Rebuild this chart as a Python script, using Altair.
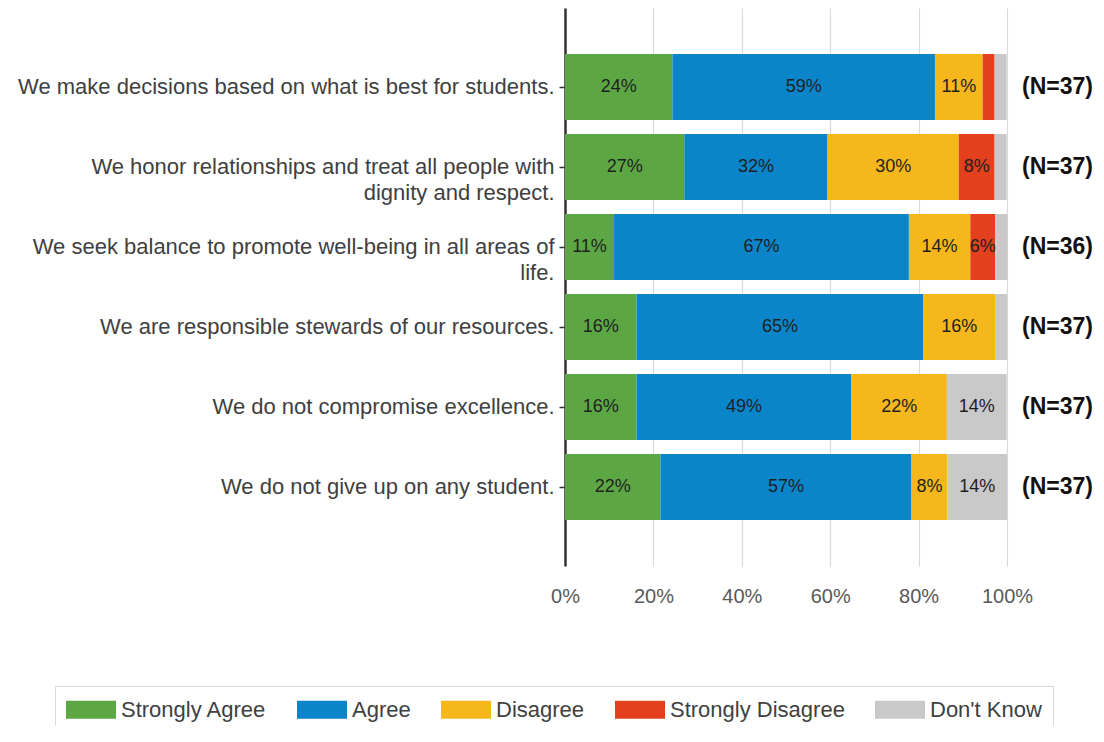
import altair as alt
import pandas as pd

statements = [
    "We make decisions based on what is best for students.",
    "We honor relationships and treat all people with|dignity and respect.",
    "We seek balance to promote well-being in all areas of|life.",
    "We are responsible stewards of our resources.",
    "We do not compromise excellence.",
    "We do not give up on any student.",
]
responses = ["Strongly Agree", "Agree", "Disagree", "Strongly Disagree", "Don't Know"]
colors = ["#5ca744", "#0a85c9", "#f5b71c", "#e4401e", "#c9c9c9"]

strongly_agree = [24.3, 27.0, 11.1, 16.2, 16.2, 21.6]
agree = [59.4, 32.4, 66.7, 64.9, 48.6, 56.8]
disagree = [10.8, 29.7, 13.9, 16.2, 21.6, 8.1]
strongly_disagree = [2.7, 8.1, 5.6, 0.0, 0.0, 0.0]
dont_know = [2.7, 2.7, 2.8, 2.7, 13.5, 13.5]
n_values = [37, 37, 36, 37, 37, 37]

x_ticks = [0, 20, 40, 60, 80, 100]

series = [strongly_agree, agree, disagree, strongly_disagree, dont_know]
rows = []
for i, s in enumerate(statements):
    for j, r in enumerate(responses):
        rows.append({"statement": s, "response": r, "value": series[j][i], "order": j})
df = pd.DataFrame(rows)
ndf = pd.DataFrame({"statement": statements, "n": [f"(N={n})" for n in n_values]})

FONT = "Liberation Sans"

y_enc = alt.Y(
    "statement:N",
    sort=statements,
    scale=alt.Scale(paddingInner=0.175, paddingOuter=0.575),
    axis=alt.Axis(
        title=None,
        labelExpr="split(datum.label, '|')",
        labelFontSize=22,
        labelFont=FONT,
        labelColor="#404040",
        labelPadding=5,
        labelLimit=700,
        labelLineHeight=26,
        tickSize=6,
        tickColor="#333333",
        tickWidth=1.5,
        domainColor="#333333",
        domainWidth=2.5,
        grid=False,
    ),
)

stacked = alt.Chart(df).transform_stack(
    stack="value",
    groupby=["statement"],
    as_=["x0", "x1"],
    sort=[alt.SortField("order", "ascending")],
)

bars = stacked.mark_bar(cornerRadius=0).encode(
    x=alt.X(
        "x0:Q",
        scale=alt.Scale(domain=[0, 100], nice=False, zero=True),
        axis=alt.Axis(
            title=None,
            values=x_ticks,
            labelExpr="datum.value + '%'",
            labelFontSize=20,
            labelFont=FONT,
            labelColor="#595959",
            labelPadding=20,
            labelFlush=False,
            ticks=False,
            domain=False,
            grid=True,
            gridColor="#d9d9d9",
            gridWidth=1.2,
        ),
    ),
    x2="x1:Q",
    y=y_enc,
    color=alt.Color(
        "response:N",
        sort=responses,
        scale=alt.Scale(domain=responses, range=colors),
        legend=alt.Legend(
            title=None,
            orient="none",
            legendX=-510,
            legendY=678,
            direction="horizontal",
            columns=5,
            symbolType="M-1,-0.72H3V0.72H-1Z",
            symbolSize=625,
            symbolStrokeWidth=0,
            symbolOpacity=1,
            labelFontSize=22,
            labelFont=FONT,
            labelColor="#404040",
            labelOffset=30,
            labelLimit=400,
            columnPadding=30,
            padding=11,
            strokeColor="#d9d9d9",
        ),
    ),
)

labels = stacked.transform_calculate(
    mid="(datum.x0 + datum.x1) / 2",
    lbl="format(datum.value, '.0f') + '%'",
).transform_filter("datum.value >= 5").mark_text(
    fontSize=18, font=FONT, color="#1f1f1f"
).encode(
    x=alt.X("mid:Q"),
    y=alt.Y("statement:N", sort=statements),
    text="lbl:N",
)

nlabels = alt.Chart(ndf).mark_text(
    align="left", dx=15, fontSize=23, fontWeight="bold", font=FONT, color="#111111"
).encode(
    x=alt.datum(100),
    y=alt.Y("statement:N", sort=statements),
    text="n:N",
)

chart = alt.layer(bars, labels, nlabels).properties(
    width=442,
    height=558,
    autosize=alt.AutoSizeParams(type="none"),
    padding={"left": 557, "top": 0, "right": 89, "bottom": 160},
).configure_view(stroke=None)

chart.save("out.html", embed_options={"renderer": "svg", "actions": False})
